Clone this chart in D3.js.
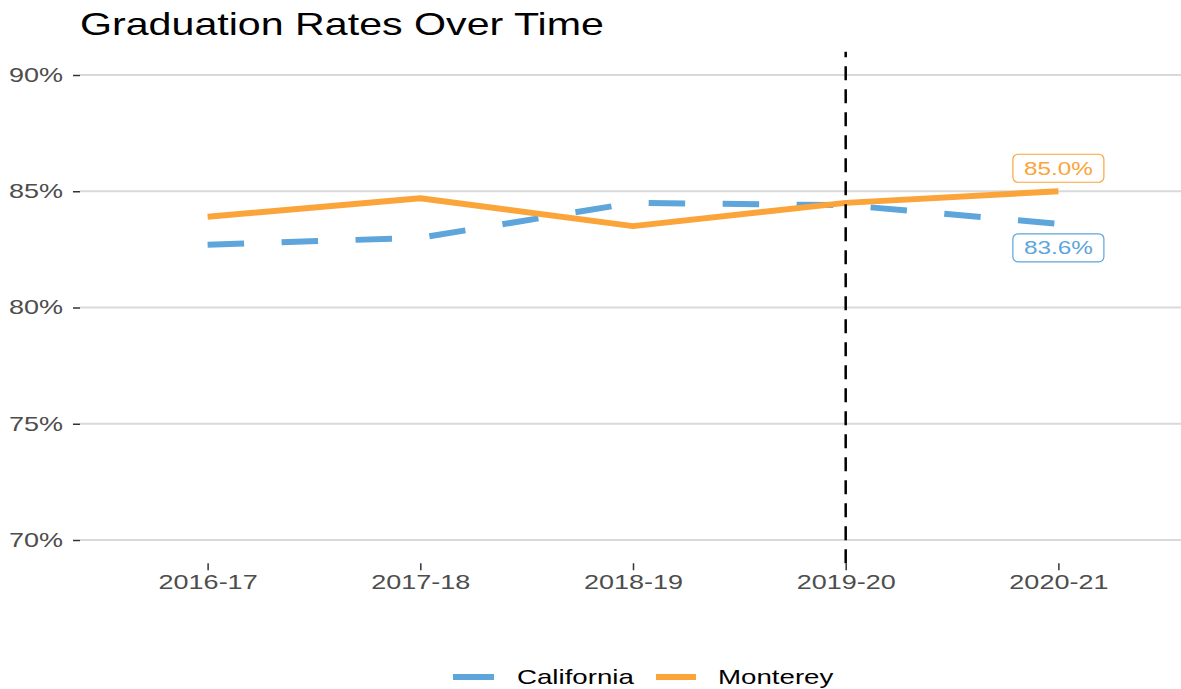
<!DOCTYPE html>
<html>
<head>
<meta charset="utf-8">
<script src="https://cdn.jsdelivr.net/npm/d3@7"></script>
<style>
  html, body { margin: 0; padding: 0; background: #fff; }
  svg { display: block; font-family: "Liberation Sans", Arial, Helvetica, sans-serif; }
</style>
</head>
<body>
<svg id="chart" width="1181" height="689"></svg>
<script>
// ---- data ----
const years = ["2016-17", "2017-18", "2018-19", "2019-20", "2020-21"];
const california = [82.7, 83.0, 84.5, 84.4, 83.6];
const monterey = [83.9, 84.7, 83.5, 84.5, 85.0];
const yTicks = [70, 75, 80, 85, 90];
const seriesNames = ["California", "Monterey"];
const markerYear = "2019-20";
const title = "Graduation Rates Over Time";

// ---- layout ----
const W = 1181, H = 689;
const S = 1.35; // horizontal text stretch
const colors = { California: "#5DA5DA", Monterey: "#FAA43A" };
const panel = { left: 80, right: 1186, top: 51.75, bottom: 563.25 };

const svg = d3.select("#chart");

const x = d3.scalePoint().domain(years).range([panel.left, panel.right]).padding(0.6);
const y = d3.scaleLinear().domain([69, 91]).range([panel.bottom, panel.top]);

function stretchText(sel) {
  sel.each(function () {
    const t = d3.select(this);
    const xv = +t.attr("x") || 0;
    const yv = +t.attr("y") || 0;
    t.attr("x", 0).attr("y", 0).attr("transform", `translate(${xv},${yv}) scale(${S},1)`);
  });
}

// gridlines
svg.append("g").selectAll("line").data(yTicks).join("line")
  .attr("x1", panel.left).attr("x2", W)
  .attr("y1", d => y(d)).attr("y2", d => y(d))
  .attr("stroke", "#d9d9d9").attr("stroke-width", 1.8);

// y axis
const yAxis = svg.append("g").attr("transform", `translate(${panel.left},0)`)
  .call(d3.axisLeft(y).tickValues(yTicks).tickSize(7).tickPadding(10).tickFormat(d => d + "%"));
yAxis.select(".domain").remove();
yAxis.selectAll(".tick line").attr("stroke", "#333").attr("stroke-width", 1.5);
yAxis.selectAll(".tick text").attr("fill", "#4d4d4d").style("font-size", "20px")
  .attr("font-family", null).call(stretchText);

// x axis
const xAxis = svg.append("g").attr("transform", `translate(0,${panel.bottom})`)
  .call(d3.axisBottom(x).tickSize(7).tickPadding(5));
xAxis.select(".domain").remove();
xAxis.selectAll(".tick line").attr("stroke", "#333").attr("stroke-width", 1.5);
xAxis.selectAll(".tick text").attr("fill", "#4d4d4d").style("font-size", "20px")
  .attr("font-family", null).call(stretchText);

// lines
const line = d3.line().x((d, i) => x(years[i])).y(d => y(d));
svg.append("path").datum(california)
  .attr("d", line).attr("fill", "none")
  .attr("stroke", colors.California).attr("stroke-width", 6)
  .attr("stroke-dasharray", "36.5,37.5").attr("stroke-linecap", "butt");
svg.append("path").datum(monterey)
  .attr("d", line).attr("fill", "none")
  .attr("stroke", colors.Monterey).attr("stroke-width", 6)
  .attr("stroke-linejoin", "round").attr("stroke-linecap", "butt");

// vertical marker
svg.append("line")
  .attr("x1", x(markerYear)).attr("x2", x(markerYear))
  .attr("y1", panel.bottom).attr("y2", panel.top)
  .attr("stroke", "#000").attr("stroke-width", 2.5)
  .attr("stroke-dasharray", "14,9");

// end labels
const last = years.length - 1;
const labels = [
  { name: "Monterey", v: monterey[last], dy: -23 },
  { name: "California", v: california[last], dy: 24 }
];
labels.forEach(l => {
  const cx = x(years[last]);
  const cy = y(l.v) + l.dy;
  const bw = 91, bh = 28;
  svg.append("rect")
    .attr("x", cx - bw / 2).attr("y", cy - bh / 2)
    .attr("width", bw).attr("height", bh).attr("rx", 5)
    .attr("fill", "#fff").attr("stroke", colors[l.name]).attr("stroke-width", 1.2);
  svg.append("text")
    .attr("transform", `translate(${cx},${cy}) scale(${S},1)`)
    .attr("text-anchor", "middle").attr("dy", "0.36em")
    .attr("fill", colors[l.name]).style("font-size", "18px")
    .text(l.v.toFixed(1) + "%");
});

// title
svg.append("text")
  .attr("transform", `translate(80,35) scale(${S},1)`)
  .attr("fill", "#000").style("font-size", "30.5px")
  .text(title);

// legend
const legendItems = [
  { name: "California", kx1: 453, kx2: 494, tx: 517 },
  { name: "Monterey", kx1: 656, kx2: 696, tx: 718 }
];
const legY = 677;
legendItems.forEach(it => {
  svg.append("line")
    .attr("x1", it.kx1).attr("x2", it.kx2).attr("y1", legY).attr("y2", legY)
    .attr("stroke", colors[it.name]).attr("stroke-width", 6);
  svg.append("text")
    .attr("transform", `translate(${it.tx},${legY}) scale(${S},1)`)
    .attr("dy", "0.36em").attr("fill", "#000").style("font-size", "20.5px")
    .text(it.name);
});
</script>
</body>
</html>
